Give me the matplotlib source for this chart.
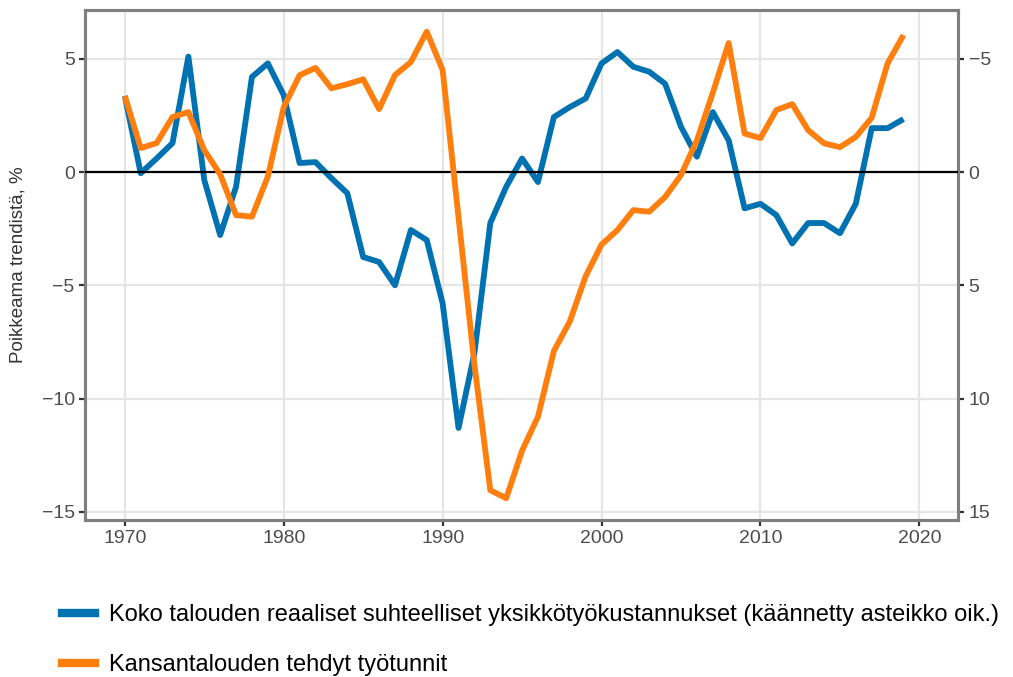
import numpy as np
import matplotlib
matplotlib.use("Agg")
import matplotlib.pyplot as plt
from matplotlib.lines import Line2D

plt.rcParams['font.family'] = ['Liberation Sans', 'DejaVu Sans']

years = list(range(1970, 2020))

# Kansantalouden tehdyt työtunnit, poikkeama trendistä (vasen asteikko)
hours = [3.36, 1.06, 1.28, 2.43, 2.65, 0.97, -0.1, -1.9, -1.97, -0.2,
         2.87, 4.28, 4.6, 3.7, 3.88, 4.1, 2.78, 4.28, 4.86, 6.2,
         4.5, -2.0, -8.5, -14.05, -14.4, -12.3, -10.8, -7.9, -6.6, -4.6,
         -3.2, -2.56, -1.68, -1.75, -1.1, -0.13, 1.4, 3.5, 5.7, 1.7,
         1.5, 2.74, 3.0, 1.85, 1.27, 1.1, 1.55, 2.4, 4.8, 6.05]

# Reaaliset suhteelliset yksikkötyökustannukset (käännetty oikea asteikko)
ulc = [-3.36, 0.05, -0.6, -1.28, -5.1, 0.35, 2.78, 0.65, -4.2, -4.8,
       -3.4, -0.4, -0.44, 0.27, 0.93, 3.75, 3.97, 5.0, 2.56, 3.0,
       5.8, 11.3, 8.0, 2.25, 0.65, -0.6, 0.44, -2.43, -2.87, -3.25,
       -4.8, -5.3, -4.65, -4.43, -3.9, -2.0, -0.68, -2.65, -1.4, 1.6,
       1.4, 1.9, 3.15, 2.25, 2.25, 2.7, 1.4, -1.94, -1.94, -2.34]

blue = '#0072b2'
orange = '#ff7f0e'
frame = '#7f7f7f'
txt = '#4d4d4d'

fig = plt.figure(figsize=(10.13, 6.77), dpi=100)
ax = fig.add_axes([0.084, 0.232, 0.862, 0.753])
ax2 = ax.twinx()

# ax: grid, ax2: blue on inverted right scale, ax3: orange on top
ax.set_ylim(-15.36, 7.15)
ax2.set_ylim(15.36, -7.15)
ax.set_xlim(1967.5, 2022.45)

ax.grid(True, color='#e5e5e5', linewidth=1.6)
ax.set_axisbelow(True)
ax.set_zorder(1)
ax2.set_zorder(2)
ax2.patch.set_visible(False)

ax2.plot(years, ulc, color=blue, linewidth=4.2, solid_capstyle='butt', zorder=2)
ax2.axhline(0, color='black', linewidth=1.6, zorder=3)
ax3 = ax.twinx()
ax3.set_zorder(3)
ax3.patch.set_visible(False)
ax3.set_ylim(ax.get_ylim())
ax3.plot(years, hours, color=orange, linewidth=4.2, solid_capstyle='butt')
ax3.set_yticks([])
for s in ax3.spines.values():
    s.set_visible(False)

ax.set_yticks([-15, -10, -5, 0, 5])
ax.set_yticklabels(['\u221215', '\u221210', '\u22125', '0', '5'])
ax2.set_yticks([-5, 0, 5, 10, 15])
ax2.set_yticklabels(['\u22125', '0', '5', '10', '15'])
ax.set_xticks([1970, 1980, 1990, 2000, 2010, 2020])

for a in (ax, ax2):
    a.tick_params(colors='#333333', labelcolor=txt, labelsize=14,
                  length=4, width=1.6)
    for s in a.spines.values():
        s.set_color(frame)
        s.set_linewidth(2.2)

ax.set_ylabel('Poikkeama trendistä, %', fontsize=13.5, color='#333333', labelpad=11)

handles = [Line2D([], [], color=blue, linewidth=6),
           Line2D([], [], color=orange, linewidth=6)]
labels = ['Koko talouden reaaliset suhteelliset yksikkötyökustannukset (käännetty asteikko oik.)',
          'Kansantalouden tehdyt työtunnit']
fig.legend(handles, labels, loc='upper left', bbox_to_anchor=(0.052, 0.122),
           frameon=False, fontsize=17, handlelength=1.4, labelspacing=1.2,
           handletextpad=0.6, borderaxespad=0)

fig.savefig('out.png', dpi=100)
